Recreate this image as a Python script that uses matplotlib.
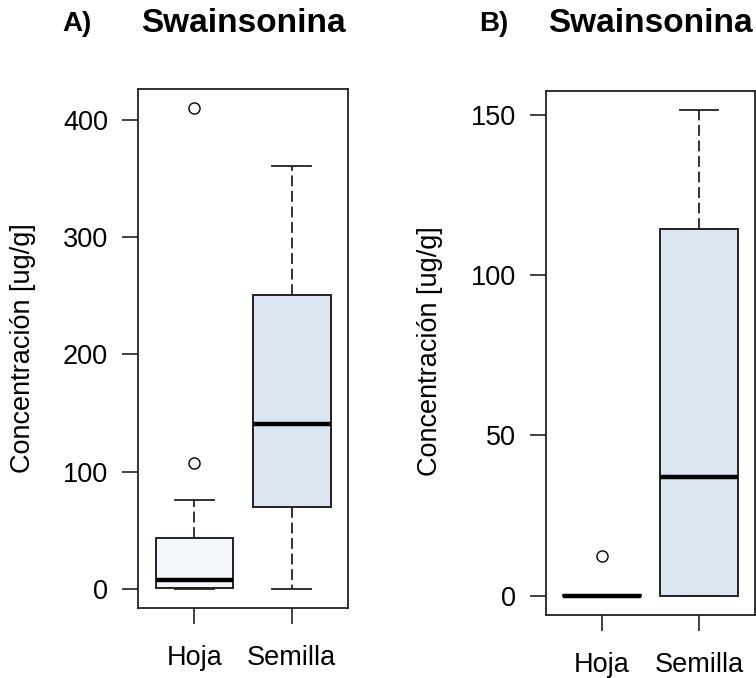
import matplotlib
matplotlib.use("Agg")
import matplotlib.pyplot as plt

plt.rcParams['font.family'] = ['Liberation Sans', 'DejaVu Sans']

W, H = 756, 678

categories = ['Hoja', 'Semilla']
fills = ['#F4F8FC', '#DCE6F2']

# panel A
a_whislo = [0, 0]
a_q1 = [0.5, 70]
a_med = [7.5, 141]
a_q3 = [43, 251]
a_whishi = [76, 361]
a_fliers = [[107, 410], []]
a_ticks = [0, 100, 200, 300, 400]

# panel B
b_whislo = [0, 0]
b_q1 = [0, 0]
b_med = [0, 37]
b_q3 = [0.3, 114.5]
b_whishi = [0, 151.5]
b_fliers = [[12.5], []]
b_ticks = [0, 50, 100, 150]


def px_axes(l, t, r, b):
    return [l / W, 1 - b / H, (r - l) / W, (b - t) / H]


def panel(ax, whislo, q1, med, q3, whishi, fliers, ticks):
    stats = []
    for i in range(len(categories)):
        stats.append(dict(whislo=whislo[i], q1=q1[i], med=med[i], q3=q3[i],
                          whishi=whishi[i], fliers=fliers[i], label=categories[i]))
    bp = ax.bxp(stats, positions=[1, 2], widths=0.8, capwidths=0.4, patch_artist=True,
                boxprops=dict(edgecolor='#222222', linewidth=1.4),
                medianprops=dict(color='black', linewidth=3.2, solid_capstyle='butt'),
                whiskerprops=dict(color='#222222', linewidth=1.3, linestyle=(0, (6, 2.6))),
                capprops=dict(color='#222222', linewidth=1.3),
                flierprops=dict(marker='o', markerfacecolor='none', markeredgecolor='black',
                                markersize=8, markeredgewidth=1.0))
    for patch, c in zip(bp['boxes'], fills):
        patch.set_facecolor(c)
    # R style: data range padded by 4%
    allv = whislo + whishi + [v for f in fliers for v in f]
    lo, hi = min(allv), max(allv)
    r = hi - lo
    ax.set_ylim(lo - 0.04 * r, hi + 0.04 * r)
    ax.set_xlim(0.42, 2.58)
    ax.set_yticks(ticks)
    ax.set_xticks([1, 2])
    ax.set_xticklabels(categories)
    for s in ax.spines.values():
        s.set_linewidth(1.3)
        s.set_color('#222222')
    ax.tick_params(axis='both', direction='out', length=11.5, width=1.2, color='#222222',
                   labelsize=19.5, pad=10)
    ax.tick_params(axis='x', pad=15)


fig = plt.figure(figsize=(W / 100, H / 100), dpi=100)

axA = fig.add_axes(px_axes(138, 89, 348, 608))
panel(axA, a_whislo, a_q1, a_med, a_q3, a_whishi, a_fliers, a_ticks)

axB = fig.add_axes(px_axes(546, 91, 755, 615))
panel(axB, b_whislo, b_q1, b_med, b_q3, b_whishi, b_fliers, b_ticks)

# titles and panel letters
fig.text(243 / W, 1 - 24 / H, 'Swainsonina', ha='center', va='center',
         fontsize=24, fontweight='bold')
fig.text(650 / W, 1 - 24 / H, 'Swainsonina', ha='center', va='center',
         fontsize=24, fontweight='bold')
fig.text(62 / W, 1 - 24 / H, 'A)', ha='left', va='center', fontsize=20, fontweight='bold')
fig.text(479 / W, 1 - 24 / H, 'B)', ha='left', va='center', fontsize=20, fontweight='bold')

# y labels
fig.text(23 / W, 1 - 348 / H, 'Concentración [ug/g]', rotation=90, ha='center',
         va='center', fontsize=19.5)
fig.text(430 / W, 1 - 351 / H, 'Concentración [ug/g]', rotation=90, ha='center',
         va='center', fontsize=19.5)

fig.savefig('out.png', dpi=100)
